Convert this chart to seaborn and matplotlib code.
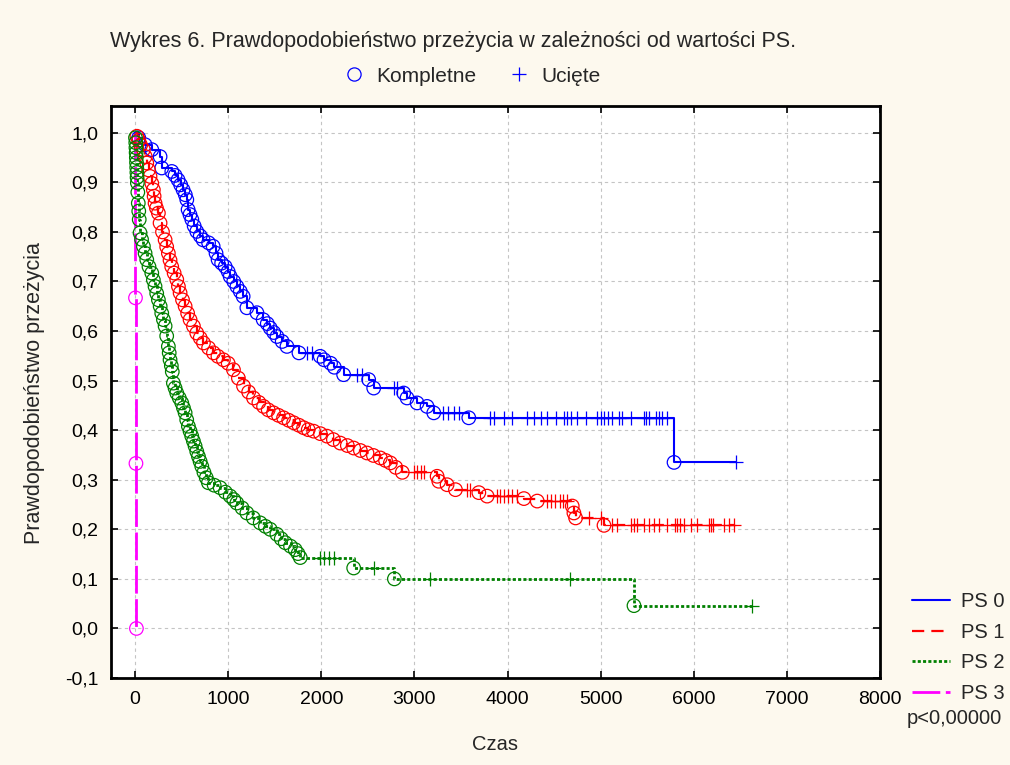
import numpy as np
import pandas as pd
import matplotlib
matplotlib.use("Agg")
import matplotlib.pyplot as plt
from matplotlib.lines import Line2D
import seaborn as sns

# ---- Kaplan-Meier data: event times / survival after each event, censored times ----
groups = ["PS 0", "PS 1", "PS 2", "PS 3"]

ps0_event_t = [40, 108, 180, 269, 287, 395, 430, 462, 490, 516, 540, 556, 570, 590, 610,
               635, 663, 700, 731, 790, 839, 870, 892, 930, 968, 1000, 1022, 1060, 1094,
               1130, 1161, 1201, 1309, 1376, 1420, 1452, 1490, 1524, 1580, 1631, 1760,
               1989, 2030, 2100, 2140, 2240, 2509, 2563, 2885, 2921, 3029, 3136, 3208,
               3584, 5788]
ps0_event_s = [0.990, 0.976, 0.966, 0.952, 0.929, 0.922, 0.914, 0.905, 0.895, 0.885, 0.875,
               0.865, 0.845, 0.835, 0.825, 0.812, 0.801, 0.792, 0.784, 0.778, 0.771, 0.757,
               0.744, 0.737, 0.730, 0.720, 0.710, 0.700, 0.690, 0.680, 0.670, 0.647, 0.637,
               0.623, 0.615, 0.606, 0.597, 0.589, 0.579, 0.569, 0.556, 0.549, 0.542, 0.535,
               0.527, 0.512, 0.502, 0.485, 0.475, 0.465, 0.455, 0.448, 0.435, 0.425, 0.335]
ps0_cens_t = [1850, 1900, 2384, 2437, 2778, 2814, 3312, 3360, 3420, 3480, 3817, 3853, 3961,
              4050, 4212, 4283, 4355, 4427, 4516, 4606, 4642, 4677, 4749, 4839, 4964, 5000,
              5040, 5080, 5125, 5197, 5233, 5323, 5462, 5490, 5516, 5591, 5627, 5663, 5717,
              6452]

ps1_event_t = [20, 40, 60, 90, 110, 126, 145, 161, 180, 197, 205, 215, 230, 251, 269, 295,
               323, 340, 358, 376, 394, 420, 448, 466, 484, 510, 538, 565, 591, 627, 663,
               700, 735, 790, 842, 890, 949, 1000, 1057, 1110, 1165, 1220, 1272, 1330, 1380,
               1430, 1487, 1540, 1595, 1650, 1703, 1760, 1810, 1860, 1918, 1990, 2061, 2130,
               2204, 2280, 2348, 2420, 2491, 2560, 2634, 2690, 2742, 2800, 2870, 3244, 3262,
               3351, 3441, 3692, 3781, 4176, 4319, 4695, 4713, 4731, 5036]
ps1_event_s = [0.993, 0.985, 0.975, 0.966, 0.952, 0.939, 0.925, 0.912, 0.898, 0.885, 0.872,
               0.858, 0.848, 0.838, 0.818, 0.800, 0.784, 0.770, 0.757, 0.743, 0.730, 0.717,
               0.704, 0.690, 0.677, 0.663, 0.650, 0.636, 0.623, 0.610, 0.596, 0.586, 0.576,
               0.566, 0.556, 0.549, 0.542, 0.535, 0.522, 0.505, 0.489, 0.477, 0.465, 0.456,
               0.448, 0.441, 0.435, 0.430, 0.425, 0.420, 0.415, 0.410, 0.405, 0.401, 0.398,
               0.393, 0.388, 0.381, 0.374, 0.369, 0.364, 0.359, 0.354, 0.349, 0.344, 0.339,
               0.334, 0.325, 0.315, 0.307, 0.297, 0.290, 0.280, 0.274, 0.267, 0.262, 0.257,
               0.247, 0.233, 0.223, 0.208]
ps1_cens_t = [2993, 3030, 3070, 3100, 3566, 3602, 3889, 3920, 3960, 4000, 4050, 4104, 4427,
              4470, 4510, 4560, 4600, 4642, 4875, 5000, 5125, 5179, 5330, 5358, 5390, 5466,
              5520, 5573, 5627, 5717, 5800, 5824, 5850, 5896, 5968, 6039, 6160, 6183, 6210,
              6326, 6380, 6434]

ps2_event_t = [5, 8, 10, 12, 14, 16, 18, 20, 22, 25, 30, 35, 40, 45, 54, 70, 90, 108, 126,
               150, 180, 197, 215, 233, 251, 270, 287, 305, 323, 340, 358, 367, 376, 390, 400,
               412, 430, 448, 475, 502, 520, 538, 555, 573, 591, 609, 627, 645, 663, 681, 699,
               717, 740, 765, 788, 850, 914, 970, 1022, 1060, 1093, 1150, 1201, 1270, 1344,
               1400, 1452, 1523, 1570, 1613, 1670, 1720, 1750, 1774, 2348, 2785, 5358]
ps2_event_s = [0.990, 0.980, 0.970, 0.960, 0.950, 0.940, 0.930, 0.920, 0.910, 0.899, 0.880,
               0.858, 0.842, 0.825, 0.798, 0.785, 0.771, 0.757, 0.744, 0.730, 0.717, 0.703,
               0.690, 0.676, 0.663, 0.650, 0.636, 0.623, 0.610, 0.590, 0.569, 0.556, 0.542,
               0.530, 0.518, 0.495, 0.485, 0.475, 0.465, 0.455, 0.445, 0.435, 0.421, 0.408,
               0.398, 0.388, 0.378, 0.368, 0.357, 0.347, 0.337, 0.327, 0.315, 0.304, 0.294,
               0.289, 0.284, 0.275, 0.267, 0.260, 0.253, 0.243, 0.233, 0.223, 0.213, 0.206,
               0.200, 0.190, 0.181, 0.173, 0.166, 0.159, 0.151, 0.143, 0.122, 0.100, 0.046]
ps2_cens_t = [1989, 2030, 2080, 2133, 2563, 3172, 4667, 6630]

ps3_event_t = [5, 10, 15]
ps3_event_s = [0.667, 0.333, 0.0]
ps3_cens_t = []

x_ticks = [0, 1000, 2000, 3000, 4000, 5000, 6000, 7000, 8000]
y_ticks = [-0.1, 0.0, 0.1, 0.2, 0.3, 0.4, 0.5, 0.6, 0.7, 0.8, 0.9, 1.0]

title_text = "Wykres 6. Prawdopodobieństwo przeżycia w zależności od wartości PS."
x_label = "Czas"
y_label = "Prawdopodobieństwo przeżycia"
p_text = "p<0,00000"

events_t = [ps0_event_t, ps1_event_t, ps2_event_t, ps3_event_t]
events_s = [ps0_event_s, ps1_event_s, ps2_event_s, ps3_event_s]
cens_t = [ps0_cens_t, ps1_cens_t, ps2_cens_t, ps3_cens_t]

# ---- styling ----
colors = ["#0000ff", "#ff0000", "#008000", "#ff00ff"]
line_kw = [
    dict(linestyle="-", linewidth=1.5),
    dict(linestyle=(0, (5.5, 3.2)), linewidth=1.6),
    dict(linestyle=(0, (1.1, 0.8)), linewidth=2.0),
    dict(linestyle=(0, (10, 2)), linewidth=2.0),
]
bg = "#fdf9ee"

sns.set_theme(style="white")
plt.rcParams["font.family"] = ["Liberation Sans", "DejaVu Sans"]

fig = plt.figure(figsize=(10.10, 7.65), dpi=100, facecolor=bg)
ax = fig.add_axes([0.1099, 0.1137, 0.7614, 0.7477])
ax.set_facecolor("white")


def survival_at(t_query, et, es):
    """Kaplan-Meier step value at given times."""
    et = np.asarray(et, float)
    es = np.asarray(es, float)
    idx = np.searchsorted(et, np.asarray(t_query, float), side="right") - 1
    return np.where(idx >= 0, es[np.clip(idx, 0, None)], 1.0)


for g, et, es, ct, col, lk in zip(groups, events_t, events_s, cens_t, colors, line_kw):
    cs = survival_at(ct, et, es) if len(ct) else np.array([])
    curve = pd.DataFrame({
        "t": [0.0] + list(et) + list(ct),
        "s": [1.0] + list(es) + list(cs),
    }).sort_values("t", kind="stable")
    sns.lineplot(data=curve, x="t", y="s", ax=ax, drawstyle="steps-post",
                 estimator=None, sort=False, color=col, zorder=3, **lk)
    ev = pd.DataFrame({"t": et, "s": es})
    sns.scatterplot(data=ev, x="t", y="s", ax=ax, marker="o", s=95,
                    color=col, facecolor="none", edgecolor=col, linewidth=0.9,
                    zorder=4)
    if len(ct):
        ce = pd.DataFrame({"t": ct, "s": cs})
        sns.scatterplot(data=ce, x="t", y="s", ax=ax, marker="+", s=90,
                        color=col, edgecolor=col, linewidth=0.9, zorder=4)

for coll in ax.collections:
    if coll.get_paths() and len(coll.get_paths()[0].vertices) > 4:
        coll.set_facecolor("none")

# ---- axes ----
ax.set_xlim(-258, 8000)
ax.set_ylim(-0.1, 1.054)
ax.set_xticks(x_ticks)
ax.set_yticks(y_ticks)
ax.set_xticklabels([str(v) for v in x_ticks])
ax.set_yticklabels([f"{v:.1f}".replace(".", ",") for v in y_ticks])
ax.tick_params(axis="both", direction="in", length=5, width=1.2, colors="black",
               labelsize=14, pad=9, top=True, right=True, labeltop=False,
               labelright=False, bottom=True, left=True)
ax.grid(True, color="#c4c4c4", linestyle=(0, (3, 3)), linewidth=0.8)
ax.set_axisbelow(True)
for sp in ax.spines.values():
    sp.set_visible(True)
    sp.set_color("black")
    sp.set_linewidth(2.0)
ax.set_xlabel("")
ax.set_ylabel("")

fig.text(495 / 1010, 1 - 745 / 765, x_label, ha="center", va="center", fontsize=14.5)
fig.text(35 / 1010, 1 - 393 / 765, y_label, ha="center", va="center",
         rotation=90, fontsize=15.5)
fig.text(110 / 1010, 1 - 42 / 765, title_text, ha="left", va="center", fontsize=15.5)

# legend for marker meaning
mk_handles = [
    Line2D([], [], marker="o", linestyle="none", markersize=9.5, markerfacecolor="none",
           markeredgecolor="#0000ff", markeredgewidth=0.9, label="Kompletne"),
    Line2D([], [], marker="+", linestyle="none", markersize=9.5,
           markeredgecolor="#0000ff", markeredgewidth=0.9, label="Ucięte"),
]
fig.legend(handles=mk_handles, loc="center", bbox_to_anchor=(471 / 1010, 1 - 76 / 765),
           ncol=2, frameon=False, fontsize=15, handletextpad=0.5, columnspacing=1.4,
           handlelength=1.2)

# legend for groups
ln_handles = [Line2D([], [], color=c, label=g, **lk)
              for g, c, lk in zip(groups, colors, line_kw)]
fig.legend(handles=ln_handles, loc="upper left",
           bbox_to_anchor=(912 / 1010, 1 - 592 / 765), frameon=False, fontsize=14.5,
           handlelength=1.9, handletextpad=0.55, labelspacing=0.58, borderaxespad=0,
           borderpad=0)
fig.text(907 / 1010, 1 - 718 / 765, p_text, ha="left", va="center", fontsize=14.5)

fig.savefig("out.png", dpi=100, facecolor=bg)
